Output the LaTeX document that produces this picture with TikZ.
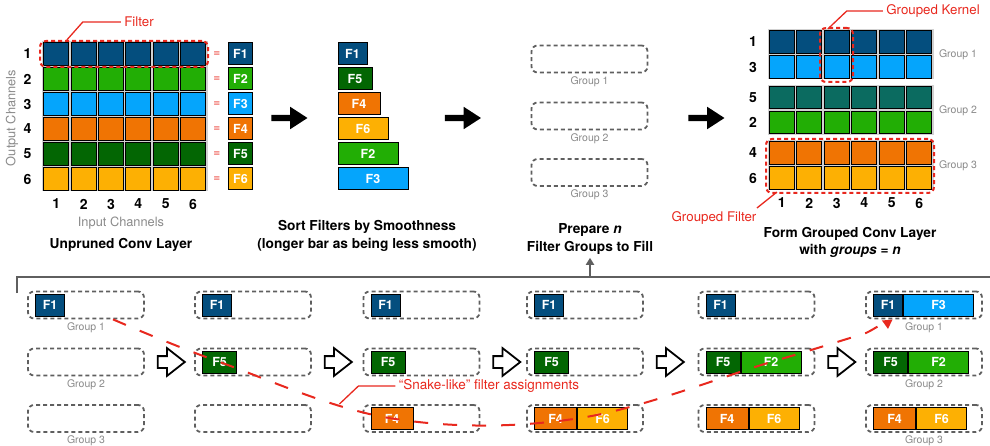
\documentclass[tikz,border=0pt]{standalone}
\usepackage{fontspec}
\setmainfont{TeX Gyre Heros}
\usetikzlibrary{positioning, arrows.meta, shapes.arrows}

\definecolor{fone}{HTML}{044E7E}
\definecolor{ftwo}{HTML}{22AE05}
\definecolor{fthree}{HTML}{05A5FC}
\definecolor{ffour}{HTML}{F07403}
\definecolor{ffive}{HTML}{036603}
\definecolor{fsix}{HTML}{FDB003}
\definecolor{fteal}{HTML}{0B6B60}
\definecolor{annored}{HTML}{E8281E}
\definecolor{darkgrey}{HTML}{5F5F5F}
\definecolor{lightgrey}{HTML}{8A8A8A}
\newcommand{\fsz}[1]{\fontsize{#1}{#1}\selectfont}

\begin{document}
\begin{tikzpicture}[x=1pt, y=-1pt,
	cell/.style={draw=black, line width=1pt, minimum width=24.8pt, minimum height=22.5pt, inner sep=0pt},
	fbox/.style={draw=black, line width=1pt, minimum height=22pt, inner sep=0pt, text=white, font=\bfseries\fsz{12.5}},
	bar/.style={fbox, anchor=west},
	numlbl/.style={font=\bfseries\fsz{14}},
	eqsign/.style={text=annored, font=\fsz{12}},
	greytxt/.style={text=lightgrey, font=\fsz{12.8}},
	grouptxt/.style={text=lightgrey, font=\fsz{10.5}, inner sep=1pt},
	caption/.style={font=\bfseries\fontsize{13.7}{17.5}\selectfont, align=center},
	groupbox/.style={draw=darkgrey, line width=1.8pt, dash pattern=on 4pt off 3pt, rounded corners=6pt, minimum width=116pt, minimum height=27pt},
	redbox/.style={draw=annored, line width=2pt, dash pattern=on 4pt off 3pt, rounded corners=6pt, inner sep=0pt},
	redtxt/.style={text=annored, font=\fsz{13.3}},
	callout/.style={draw=annored, line width=1.3pt},
	bigarrow/.style={single arrow, fill=black, minimum height=36pt, minimum width=1pt, inner xsep=0pt, inner ysep=3pt, single arrow head extend=8pt, single arrow tip angle=66},
	hollowarrow/.style={single arrow, draw=black, fill=white, line width=1.8pt, minimum height=27pt, minimum width=1pt, inner xsep=0pt, inner ysep=5pt, single arrow head extend=8pt, single arrow tip angle=76},
	snakeline/.style={draw=annored, line width=2pt, dash pattern=on 14pt off 15pt, -{Triangle[length=9pt, width=10pt]}},
]
	\useasboundingbox (0,0) rectangle (990,446);

	% unpruned conv layer
	\fill[black!18] (42,41.5) rectangle (207.5,191.5);
	\foreach \rw/\fc in {1/fone, 2/ftwo, 3/fthree, 4/ffour, 5/ffive, 6/fsix} {
		\foreach \cl in {1,...,6}
			\node[cell, fill=\fc] (u\rw\cl) at (29+27.33*\cl, 29+25*\rw) {};
		\node[numlbl] (urow\rw) at (27.5, 29+25*\rw) {\rw};
		\node[eqsign] (eq\rw) at (217, 29+25*\rw) {=};
		\node[fbox, fill=\fc, minimum width=24pt] (uf\rw) at (240.5, 29+25*\rw) {F\rw};
	}
	\foreach \cl in {1,...,6}
		\node[numlbl] (ucol\cl) at (29+27.33*\cl, 204) {\cl};
	\node[greytxt] (inlbl) at (121,223) {Input Channels};
	\node[greytxt, rotate=90] (outlbl) at (12,118) {Output Channels};
	\node[caption] (unprunedcap) at (121,245) {Unpruned Conv Layer};

	\node[redbox, minimum width=168pt, minimum height=26pt] (filterbox) at (124,54) {};
	\node[redtxt] (filterlbl) at (139,22) {Filter};
	\draw[callout] (filterlbl.west) -- ++(-38,0) -- ++(-16,18);

	\node[bigarrow] (arrow1) at (287,118) {};

	% sorted filters
	\node[bar, fill=fone, minimum width=29pt] (bf1) at (337.5,54) {F1};
	\node[bar, fill=ffive, minimum width=34pt] (bf5) at (337.5,79) {F5};
	\node[bar, fill=ffour, minimum width=42pt] (bf4) at (337.5,104) {F4};
	\node[bar, fill=fsix, minimum width=50pt] (bf6) at (337.5,129) {F6};
	\node[bar, fill=ftwo, minimum width=60pt] (bf2) at (337.5,154) {F2};
	\node[bar, fill=fthree, minimum width=70pt] (bf3) at (337.5,179) {F3};
	\node[caption] (sortcap) at (367,236) {Sort Filters by Smoothness\\(longer bar as being less smooth)};

	\node[bigarrow] (arrow2) at (460.5,118) {};

	% empty groups
	\node[groupbox] (pg1) at (589.5,59) {};
	\node[groupbox] (pg2) at (589.5,116) {};
	\node[groupbox] (pg3) at (589.5,172.5) {};
	\node[grouptxt, below=2pt of pg1] (pgl1) {Group 1};
	\node[grouptxt, below=2pt of pg2] (pgl2) {Group 2};
	\node[grouptxt, below=2pt of pg3] (pgl3) {Group 3};
	\node[caption] (prepcap) at (590,239) {Prepare \textit{n}\\Filter Groups to Fill};

	\node[bigarrow] (arrow3) at (704,118) {};

	% grouped conv layer
	\fill[black!18] (767.5,29.5) rectangle (933.5,79.5);
	\fill[black!18] (767.5,85) rectangle (933.5,135);
	\fill[black!18] (767.5,140.5) rectangle (933.5,190.5);
	\foreach \rw/\fc/\y in {1/fone/42, 3/fthree/67, 5/fteal/97.5, 2/ftwo/122.5, 4/ffour/153, 6/fsix/178} {
		\foreach \cl in {1,...,6}
			\node[cell, fill=\fc] (g\rw\cl) at (754.25+27.5*\cl, \y) {};
		\node[numlbl] (grow\rw) at (753, \y) {\rw};
	}
	\foreach \cl in {1,...,6}
		\node[numlbl] (gcol\cl) at (754.25+27.5*\cl, 203) {\cl};
	\node[grouptxt] (ggl1) at (958,55) {Group 1};
	\node[grouptxt] (ggl2) at (958,110.5) {Group 2};
	\node[grouptxt] (ggl3) at (958,166) {Group 3};
	\node[caption] (formcap) at (850,242.5) {Form Grouped Conv Layer\\with \textit{groups} = \textit{n}};

	\node[redbox, minimum width=33pt, minimum height=54pt] (kernelbox) at (836.5,55) {};
	\node[redtxt] (kernellbl) at (933,11) {Grouped Kernel};
	\draw[callout] (kernellbl.west) -- ++(-36,0) -- ++(-19,18);
	\node[redbox, minimum width=168pt, minimum height=54pt] (gfilterbox) at (850,166) {};
	\node[redtxt] (gfilterlbl) at (714,218) {Grouped Filter};
	\draw[callout] ([xshift=-3pt]gfilterlbl.north east) -- ++(20,-16);

	% filling the groups
	\coordinate (brk) at (17,277);
	\draw[darkgrey, line width=2.8pt] (17,293) -- (brk) -- (990,277);
	\draw[darkgrey, line width=2pt, -{Triangle[length=7pt, width=8pt]}] (prepcap.south |- brk) -- (prepcap.south);

	\foreach \s/\x in {1/86, 2/253, 3/421.5, 4/585, 5/756.5, 6/924} {
		\node[groupbox] (s\s g1) at (\x,305) {};
		\node[groupbox] (s\s g2) at (\x,362) {};
		\node[groupbox] (s\s g3) at (\x,418.5) {};
	}
	\node[grouptxt, below=2pt of s1g1] (s1l1) {Group 1};
	\node[grouptxt, below=2pt of s1g2] (s1l2) {Group 2};
	\node[grouptxt, below=2pt of s1g3] (s1l3) {Group 3};
	\node[grouptxt, below=2pt of s6g1] (s6l1) {Group 1};
	\node[grouptxt, below=2pt of s6g2] (s6l2) {Group 2};
	\node[grouptxt, below=2pt of s6g3] (s6l3) {Group 3};

	\node[bar, fill=fone, minimum width=29pt, right=8pt of s1g1.west] (s1f1) {F1};

	\node[bar, fill=fone, minimum width=29pt, right=8pt of s2g1.west] (s2f1) {F1};
	\node[bar, fill=ffive, minimum width=34pt, right=8pt of s2g2.west] (s2f5) {F5};

	\node[bar, fill=fone, minimum width=29pt, right=8pt of s3g1.west] (s3f1) {F1};
	\node[bar, fill=ffive, minimum width=34pt, right=8pt of s3g2.west] (s3f5) {F5};
	\node[bar, fill=ffour, minimum width=42pt, right=8pt of s3g3.west] (s3f4) {F4};

	\node[bar, fill=fone, minimum width=29pt, right=8pt of s4g1.west] (s4f1) {F1};
	\node[bar, fill=ffive, minimum width=34pt, right=8pt of s4g2.west] (s4f5) {F5};
	\node[bar, fill=ffour, minimum width=42pt, right=8pt of s4g3.west] (s4f4) {F4};
	\node[bar, fill=fsix, minimum width=50pt, right=0pt of s4f4] (s4f6) {F6};

	\node[bar, fill=fone, minimum width=29pt, right=8pt of s5g1.west] (s5f1) {F1};
	\node[bar, fill=ffive, minimum width=34pt, right=8pt of s5g2.west] (s5f5) {F5};
	\node[bar, fill=ftwo, minimum width=60pt, right=0pt of s5f5] (s5f2) {F2};
	\node[bar, fill=ffour, minimum width=42pt, right=8pt of s5g3.west] (s5f4) {F4};
	\node[bar, fill=fsix, minimum width=50pt, right=0pt of s5f4] (s5f6) {F6};

	\node[bar, fill=fone, minimum width=29pt, right=8pt of s6g1.west] (s6f1) {F1};
	\node[bar, fill=fthree, minimum width=70pt, right=0pt of s6f1] (s6f3) {F3};
	\node[bar, fill=ffive, minimum width=34pt, right=8pt of s6g2.west] (s6f5) {F5};
	\node[bar, fill=ftwo, minimum width=60pt, right=0pt of s6f5] (s6f2) {F2};
	\node[bar, fill=ffour, minimum width=42pt, right=8pt of s6g3.west] (s6f4) {F4};
	\node[bar, fill=fsix, minimum width=50pt, right=0pt of s6f4] (s6f6) {F6};

	\node[hollowarrow, right=12pt of s1g2] (step1) {};
	\node[hollowarrow, right=12pt of s2g2] (step2) {};
	\node[hollowarrow, right=12pt of s3g2] (step3) {};
	\node[hollowarrow, right=12pt of s4g2] (step4) {};
	\node[hollowarrow, right=12pt of s5g2] (step5) {};

	% snake-like assignment
	\coordinate (snakestart) at ([xshift=27pt]s1g1.south);
	\coordinate (snakebend) at (866,333);
	\coordinate (snakeend) at (888,329);
	\draw[snakeline] plot[smooth, tension=0.6] coordinates {(snakestart) (s2f5.center) (s3f4.center) (s4f4.east) (s5f2.center) (snakebend)} to[out=25, in=95] (snakeend);
	\node[redtxt, font=\fsz{13.5}] (snakelbl) at (489,386) {“Snake-like” filter assignments};
	\draw[callout] (snakelbl.west) -- ++(-37,0) -- ++(-19,18);
\end{tikzpicture}
\end{document}
